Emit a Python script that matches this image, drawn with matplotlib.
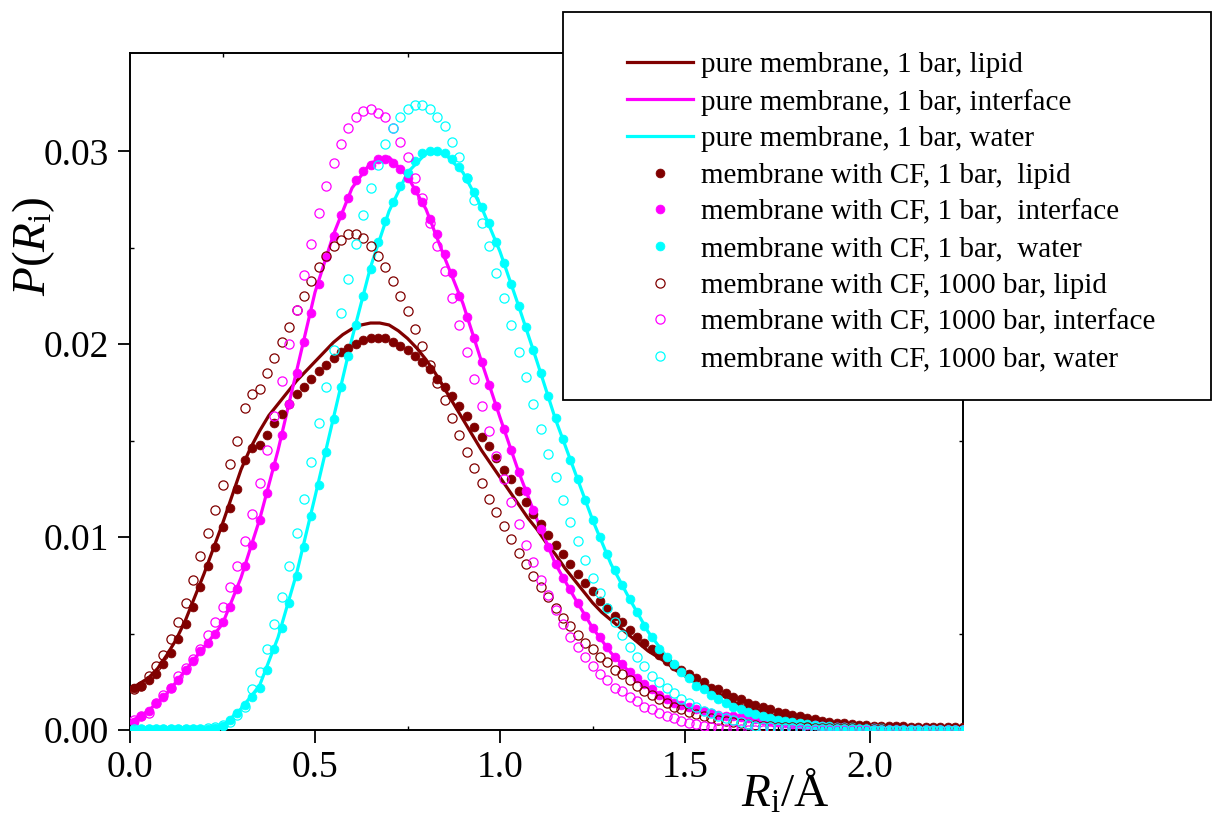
import numpy as np
import matplotlib
matplotlib.use("Agg")
import matplotlib.pyplot as plt
from matplotlib.patches import Rectangle

plt.rcParams['font.family'] = ['Liberation Serif', 'DejaVu Serif']
plt.rcParams['mathtext.fontset'] = 'custom'
plt.rcParams['mathtext.rm'] = 'Liberation Serif'
plt.rcParams['mathtext.it'] = 'Liberation Serif:italic'

# pure membrane, 1 bar, lipid (line, step 0.025 from 0 to 2.25)
pure_lipid = [0.0021, 0.0024, 0.0027, 0.0032, 0.0039, 0.0047, 0.0057, 0.0069, 0.0081, 0.0094,
              0.0107, 0.0121, 0.0135, 0.0146, 0.0155, 0.0163, 0.0169, 0.0175, 0.0181, 0.0186,
              0.0191, 0.0196, 0.0201, 0.0205, 0.0208, 0.0210, 0.0211, 0.0211, 0.0210, 0.0207,
              0.0203, 0.0198, 0.0192, 0.0185, 0.0177, 0.0169, 0.0161, 0.0153, 0.0145, 0.0138,
              0.0131, 0.0124, 0.0117, 0.0110, 0.0104, 0.0097, 0.0091, 0.0084, 0.0078, 0.0072,
              0.0066, 0.0061, 0.0057, 0.0053, 0.0049, 0.0045, 0.0041, 0.0038, 0.0035, 0.0031,
              0.0028, 0.0025, 0.0022, 0.0020, 0.0018, 0.0015, 0.0013, 0.0011, 0.0010, 0.00085,
              0.0007, 0.0006, 0.0005, 0.00045, 0.0004, 0.00035, 0.0003, 0.00027, 0.00025, 0.00022,
              0.0002, 0.00018, 0.00015, 0.00012, 0.0001, 0.0001, 0.0001, 0.00009, 0.00008, 0.00008,
              0.00007]
# pure membrane, 1 bar, interface / water (lines, step 0.05 from 0 to 2.25)
pure_interface = [0.0004, 0.0010, 0.0019, 0.0031, 0.0043, 0.0055, 0.0079, 0.0109, 0.0145, 0.0186,
                  0.0227, 0.0257, 0.0281, 0.0294, 0.0297, 0.0287, 0.0270, 0.0245, 0.0221, 0.0191,
                  0.0162, 0.0134, 0.0109, 0.0086, 0.0069, 0.0053, 0.0040, 0.0030, 0.0022, 0.0016,
                  0.0012, 0.0010, 0.0008, 0.0006, 0.0005, 0.0004, 0.0003, 0.00022, 0.00017, 0.00012,
                  0.00009, 0.00006, 0.00004, 0.00003, 0.00002, 0.00001]
pure_water = [0.00002, 0.00002, 0.00002, 0.00002, 0.00002, 0.0002, 0.0011, 0.0023, 0.0048, 0.0081,
              0.0121, 0.0162, 0.0203, 0.0240, 0.0269, 0.0289, 0.0299, 0.0299, 0.0289, 0.0271,
              0.0248, 0.0220, 0.0191, 0.0161, 0.0135, 0.0109, 0.0086, 0.0068, 0.0051, 0.0038,
              0.0028, 0.0021, 0.0015, 0.0011, 0.0008, 0.0006, 0.0004, 0.0003, 0.0002, 0.00015,
              0.0001, 0.00007, 0.00005, 0.00004, 0.00003, 0.00002]

# membrane with CF (points, bins of 0.02 centred at 0.01 ... 2.25)
cf1_lipid = [0.0022, 0.0023, 0.0026, 0.0029, 0.0034, 0.0040, 0.0047, 0.0055, 0.0064, 0.0074,
             0.0085, 0.0095, 0.0105, 0.0115, 0.0125, 0.0140, 0.0146, 0.0148, 0.0153, 0.0159,
             0.0164, 0.0169, 0.0174, 0.0178, 0.0182, 0.0186, 0.0189, 0.0193, 0.0196, 0.0198,
             0.0200, 0.0202, 0.0203, 0.0203, 0.0203, 0.0201, 0.0199, 0.0197, 0.0194, 0.0191,
             0.0187, 0.0182, 0.0178, 0.0173, 0.0168, 0.0163, 0.0157, 0.0152, 0.0147, 0.0141,
             0.0135, 0.0130, 0.0124, 0.0118, 0.0112, 0.0107, 0.0101, 0.0096, 0.0091, 0.0086,
             0.0081, 0.0076, 0.0072, 0.0067, 0.0063, 0.0059, 0.0056, 0.0052, 0.0048, 0.0045,
             0.0042, 0.0039, 0.0036, 0.0033, 0.0031, 0.0029, 0.0027, 0.0025, 0.0022, 0.0021,
             0.0019, 0.0017, 0.0016, 0.0014, 0.0013, 0.0012, 0.0011, 0.00095, 0.00086, 0.00078,
             0.0007, 0.0006, 0.00055, 0.00048, 0.00043, 0.00038, 0.00035, 0.00031, 0.00028, 0.00025,
             0.00023, 0.00022, 0.00021, 0.0002, 0.00019, 0.00018, 0.00018, 0.00017, 0.00017, 0.00016,
             0.00016, 0.00015, 0.00015]
cf1_interface = [0.0004, 0.0007, 0.0010, 0.0014, 0.0017, 0.0022, 0.0026, 0.0031, 0.0036, 0.0041,
                 0.0045, 0.0050, 0.0056, 0.0064, 0.0073, 0.0085, 0.0096, 0.0109, 0.0123, 0.0137,
                 0.0153, 0.0169, 0.0185, 0.0201, 0.0216, 0.0231, 0.0245, 0.0256, 0.0267, 0.0276,
                 0.0285, 0.0290, 0.0293, 0.0296, 0.0296, 0.0294, 0.0291, 0.0286, 0.0280, 0.0274,
                 0.0265, 0.0257, 0.0247, 0.0237, 0.0225, 0.0214, 0.0203, 0.0191, 0.0179, 0.0168,
                 0.0156, 0.0145, 0.0134, 0.0124, 0.0114, 0.0104, 0.0095, 0.0086, 0.0079, 0.0073,
                 0.0066, 0.0059, 0.0053, 0.0048, 0.0043, 0.0038, 0.0034, 0.0030, 0.0027, 0.0024,
                 0.0021, 0.0018, 0.0016, 0.0014, 0.0013, 0.0012, 0.0011, 0.0010, 0.0009, 0.0008,
                 0.00075, 0.0007, 0.00065, 0.0006, 0.00055, 0.0005, 0.00045, 0.0004, 0.00037, 0.00033,
                 0.0003, 0.00027, 0.00024, 0.00021, 0.00018, 0.00016, 0.00014, 0.00012, 0.0001, 0.00009,
                 0.00008, 0.00007, 0.00006, 0.00005, 0.00004, 0.00004, 0.00003, 0.00003, 0.00002, 0.00002,
                 0.00002, 0.00001, 0.00001]
cf1_water = [0.00005, 0.00005, 0.00005, 0.00005, 0.00005, 0.00005, 0.00005, 0.00005, 0.00005, 0.00005,
             0.00005, 0.0001, 0.0002, 0.0005, 0.0009, 0.0013, 0.0017, 0.0022, 0.0031, 0.0042,
             0.0053, 0.0066, 0.0080, 0.0095, 0.0111, 0.0127, 0.0144, 0.0161, 0.0178, 0.0194,
             0.0210, 0.0225, 0.0239, 0.0253, 0.0264, 0.0274, 0.0282, 0.0289, 0.0295, 0.0299,
             0.0300, 0.0300, 0.0299, 0.0296, 0.0292, 0.0286, 0.0279, 0.0271, 0.0263, 0.0253,
             0.0242, 0.0231, 0.0220, 0.0209, 0.0197, 0.0185, 0.0173, 0.0162, 0.0151, 0.0140,
             0.0130, 0.0119, 0.0109, 0.0100, 0.0091, 0.0083, 0.0075, 0.0068, 0.0061, 0.0054,
             0.0048, 0.0042, 0.0038, 0.0034, 0.0030, 0.0027, 0.0023, 0.0021, 0.0018, 0.0016,
             0.0014, 0.0012, 0.0011, 0.00095, 0.00083, 0.00072, 0.00062, 0.00054, 0.00047, 0.00041,
             0.00036, 0.00031, 0.00027, 0.00023, 0.0002, 0.00017, 0.00015, 0.00013, 0.00011, 0.0001,
             0.00009, 0.00008, 0.00007, 0.00006, 0.00005, 0.00005, 0.00004, 0.00004, 0.00003, 0.00003,
             0.00003, 0.00002, 0.00002]
cf1000_lipid = [0.0021, 0.0023, 0.0028, 0.0033, 0.0039, 0.0047, 0.0056, 0.0066, 0.0078, 0.0090,
                0.0102, 0.0114, 0.0127, 0.0138, 0.0150, 0.0167, 0.0174, 0.0177, 0.0185, 0.0193,
                0.0201, 0.0209, 0.0218, 0.0225, 0.0233, 0.0240, 0.0246, 0.0251, 0.0254, 0.0257,
                0.0257, 0.0255, 0.0251, 0.0246, 0.0240, 0.0233, 0.0225, 0.0217, 0.0208, 0.0199,
                0.0189, 0.0180, 0.0171, 0.0162, 0.0153, 0.0144, 0.0136, 0.0128, 0.0120, 0.0113,
                0.0106, 0.0099, 0.0092, 0.0086, 0.0080, 0.0074, 0.0069, 0.0063, 0.0058, 0.0054,
                0.0049, 0.0045, 0.0042, 0.0038, 0.0035, 0.0031, 0.0029, 0.0026, 0.0023, 0.0020,
                0.0018, 0.0016, 0.0014, 0.0012, 0.0011, 0.00095, 0.00083, 0.00073, 0.0006, 0.00052,
                0.00045, 0.0004, 0.00035, 0.0003, 0.00026, 0.00023, 0.0002, 0.00018, 0.00016, 0.00015,
                0.00014, 0.00013, 0.00012, 0.00011, 0.0001, 0.0001, 0.00009, 0.00009, 0.00008, 0.00008,
                0.00007, 0.00007, 0.00007, 0.00006, 0.00006, 0.00006, 0.00005, 0.00005, 0.00005, 0.00005,
                0.00005, 0.00004, 0.00004]
cf1000_interface = [0.0005, 0.0007, 0.0009, 0.0014, 0.0018, 0.0022, 0.0028, 0.0032, 0.0037, 0.0042,
                    0.0049, 0.0056, 0.0064, 0.0074, 0.0085, 0.0098, 0.0112, 0.0128, 0.0145, 0.0163,
                    0.0181, 0.0200, 0.0218, 0.0236, 0.0252, 0.0268, 0.0282, 0.0294, 0.0304, 0.0312,
                    0.0318, 0.0321, 0.0322, 0.0320, 0.0318, 0.0312, 0.0305, 0.0297, 0.0286, 0.0276,
                    0.0263, 0.0251, 0.0238, 0.0224, 0.0210, 0.0196, 0.0182, 0.0168, 0.0155, 0.0142,
                    0.0130, 0.0118, 0.0107, 0.0096, 0.0087, 0.0078, 0.0070, 0.0062, 0.0055, 0.0048,
                    0.0043, 0.0038, 0.0033, 0.0029, 0.0026, 0.0022, 0.0020, 0.0017, 0.0015, 0.0012,
                    0.0011, 0.0009, 0.00074, 0.0006, 0.00048, 0.00038, 0.0003, 0.00021, 0.00014, 0.00009,
                    0.00006, 0.00004, 0.00003, 0.00002, 0.00002, 0.00001, 0.00001, 0.00001, 0.00001, 0.00001,
                    0.00001, 0.00001, 0.00001, 0.00001, 0.00001, 0.00001, 0.00001, 0.00001, 0.00001, 0.00001,
                    0.00001, 0.00001, 0.00001, 0.00001, 0.00001, 0.00001, 0.00001, 0.00001, 0.00001, 0.00001,
                    0.00001, 0.00001, 0.00001]
cf1000_water = [0.00005, 0.00005, 0.00005, 0.00005, 0.00005, 0.00005, 0.00005, 0.00005, 0.00005, 0.00005,
                0.0001, 0.00015, 0.00026, 0.00043, 0.0008, 0.0012, 0.0021, 0.0030, 0.0042, 0.0055,
                0.0069, 0.0085, 0.0102, 0.0120, 0.0139, 0.0159, 0.0178, 0.0197, 0.0216, 0.0234,
                0.0252, 0.0267, 0.0281, 0.0293, 0.0304, 0.0312, 0.0318, 0.0322, 0.0324, 0.0324,
                0.0322, 0.0318, 0.0313, 0.0305, 0.0297, 0.0286, 0.0275, 0.0263, 0.0251, 0.0237,
                0.0224, 0.0210, 0.0196, 0.0183, 0.0169, 0.0156, 0.0143, 0.0131, 0.0119, 0.0108,
                0.0098, 0.0088, 0.0079, 0.0071, 0.0063, 0.0056, 0.0049, 0.0043, 0.0038, 0.0033,
                0.0028, 0.0025, 0.0022, 0.0019, 0.0016, 0.0014, 0.0012, 0.0010, 0.0009, 0.0007,
                0.0006, 0.0005, 0.0004, 0.0003, 0.00022, 0.00017, 0.00014, 0.00012, 0.0001, 0.00009,
                0.00008, 0.00007, 0.00006, 0.00005, 0.00005, 0.00004, 0.00004, 0.00003, 0.00003, 0.00003,
                0.00002, 0.00002, 0.00002, 0.00002, 0.00002, 0.00002, 0.00002, 0.00002, 0.00002, 0.00002,
                0.00002, 0.00002, 0.00002]

labels_lines = ['pure membrane, 1 bar, lipid', 'pure membrane, 1 bar, interface',
                'pure membrane, 1 bar, water']
labels_cf1 = ['membrane with CF, 1 bar,  lipid', 'membrane with CF, 1 bar,  interface',
              'membrane with CF, 1 bar,  water']
labels_cf1000 = ['membrane with CF, 1000 bar, lipid', 'membrane with CF, 1000 bar, interface',
                 'membrane with CF, 1000 bar, water']
colors = ['#800000', '#ff00ff', '#00ffff']

x_lipid_line = np.arange(len(pure_lipid)) * 0.025
x_line = np.arange(len(pure_interface)) * 0.05
x_pts = 0.01 + 0.02 * np.arange(len(cf1_lipid))

fig = plt.figure(figsize=(12.13, 8.36), dpi=100)
ax = fig.add_axes([0.1072, 0.1268, 0.6863, 0.8098])

handles = []
for xs, y, c, lab in zip([x_lipid_line, x_line, x_line], [pure_lipid, pure_interface, pure_water],
                         colors, labels_lines):
    h, = ax.plot(xs, y, color=c, lw=2.3, label=lab, zorder=2)
    handles.append(h)
for y, c, lab in zip([cf1_lipid, cf1_interface, cf1_water], colors, labels_cf1):
    h, = ax.plot(x_pts, y, ls='none', marker='o', ms=6.4, mfc=c, mec=c, mew=0.5,
                 label=lab, zorder=3)
    handles.append(h)
for y, c, lab in zip([cf1000_lipid, cf1000_interface, cf1000_water], colors, labels_cf1000):
    h, = ax.plot(x_pts, y, ls='none', marker='o', ms=6.6, mfc='none', mec=c, mew=0.9,
                 label=lab, zorder=4)
    handles.append(h)

ax.set_xlim(0, 2.25)
ax.set_ylim(0, 0.0351)
ax.set_xticks([0, 0.5, 1.0, 1.5, 2.0])
ax.set_xticklabels(['0.0', '0.5', '1.0', '1.5', '2.0'])
ax.set_xticks([0.25, 0.75, 1.25, 1.75], minor=True)
ax.set_yticks([0, 0.01, 0.02, 0.03])
ax.set_yticklabels(['0.00', '0.01', '0.02', '0.03'])
ax.set_yticks([0.005, 0.015, 0.025], minor=True)
ax.tick_params(which='major', direction='out', length=9, width=1.3, labelsize=27, pad=6)
ax.tick_params(which='minor', direction='in', length=3, width=1.0)
ax.tick_params(which='both', top=True, right=True)
ax.tick_params(which='major', top=False, right=False)
for sp in ax.spines.values():
    sp.set_linewidth(1.4)

ax.set_xlabel(r'$R_{\rm i}/\rm\AA$', fontsize=34)
ax.xaxis.set_label_coords(0.787, -0.056)
ax.set_ylabel(r'$P(R_{\rm i})$', fontsize=34)
ax.yaxis.set_label_coords(-0.088, 0.715)

# legend box sticks out of the axes on the right
fig.patches.append(Rectangle((563 / 1213, 1 - 400 / 836), 648 / 1213, 388 / 836,
                             transform=fig.transFigure, fill=True, facecolor='white',
                             edgecolor='black', lw=1.3, zorder=5))
leg = fig.legend(handles=handles, loc='upper left', bbox_to_anchor=(627 / 1213, 1 - 52 / 836),
                 frameon=False, fontsize=21, handlelength=2.25, handletextpad=0.3,
                 labelspacing=0.35, borderpad=0, borderaxespad=0, numpoints=1)
leg.set_zorder(6)

fig.savefig('out.png', dpi=100)
